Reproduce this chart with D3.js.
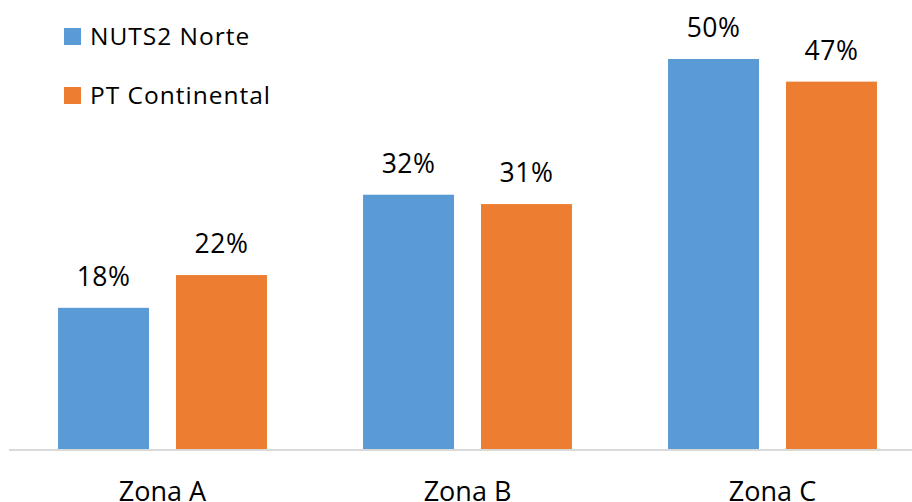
<!DOCTYPE html>
<html><head><meta charset="utf-8">
<script src="https://cdn.jsdelivr.net/npm/d3@7/dist/d3.min.js"></script>
<style>html,body{margin:0;padding:0;background:#fff;overflow:hidden}</style>
</head><body>
<svg id="c" width="912" height="502"></svg>
<script>
const categories = ["Zona A", "Zona B", "Zona C"];
const seriesNames = ["NUTS2 Norte", "PT Continental"];
const norteValues = [18.1, 32.6, 50.0];
const ptValues = [22.3, 31.4, 47.1];
const norteLabels = ["18%", "32%", "50%"];
const ptLabels = ["22%", "31%", "47%"];
const colors = ["#5b9bd5", "#ed7d31"];

const svg = d3.select("#c");
const font = "'Open Sans', 'Liberation Sans', sans-serif";
const baseY = 449;
const y = d3.scaleLinear().domain([0, 50]).range([baseY, 59]);
const x0 = d3.scaleBand().domain(categories).range([10, 925]).paddingInner(0.315).paddingOuter(0.1575);
const x1 = d3.scaleBand().domain(seriesNames).range([0, x0.bandwidth()]).paddingInner(0.229);

const rows = categories.map((c, i) => ({
  cat: c,
  vals: [
    {s: seriesNames[0], v: norteValues[i], l: norteLabels[i], col: colors[0]},
    {s: seriesNames[1], v: ptValues[i], l: ptLabels[i], col: colors[1]}
  ]
}));

const g = svg.selectAll("g.grp").data(rows).enter().append("g")
  .attr("transform", d => `translate(${x0(d.cat)},0)`);
g.selectAll("rect").data(d => d.vals).enter().append("rect")
  .attr("x", d => x1(d.s)).attr("width", x1.bandwidth())
  .attr("y", d => y(d.v)).attr("height", d => baseY - y(d.v))
  .attr("fill", d => d.col);
g.selectAll("text.lbl").data(d => d.vals).enter().append("text")
  .attr("class", "lbl")
  .attr("x", d => x1(d.s) + x1.bandwidth() / 2)
  .attr("y", d => y(d.v) - 22)
  .attr("text-anchor", "middle")
  .attr("font-family", font).attr("font-size", 26.5).attr("fill", "#000")
  .attr("letter-spacing", 0.5)
  .text(d => d.l);

// axis
const axis = svg.append("g").attr("transform", `translate(0,${baseY + 1})`)
  .call(d3.axisBottom(x0).tickSize(0).tickPadding(0));
axis.select(".domain").attr("stroke", "#d9d9d9").attr("stroke-width", 2)
  .attr("d", "M9,0H912");
axis.selectAll(".tick text").attr("font-family", font).attr("font-size", 27)
  .attr("fill", "#000").attr("dy", null).attr("y", 51);

// legend
const leg = svg.append("g");
const items = leg.selectAll("g").data(seriesNames).enter().append("g")
  .attr("transform", (d, i) => `translate(64,${28 + i * 59})`);
items.append("rect").attr("width", 17).attr("height", 17).attr("fill", (d, i) => colors[i]);
items.append("text").attr("x", 26).attr("y", 17)
  .attr("font-family", font).attr("font-size", 24.5).attr("fill", "#000")
  .attr("letter-spacing", 1)
  .text(d => d);
</script>
</body></html>
